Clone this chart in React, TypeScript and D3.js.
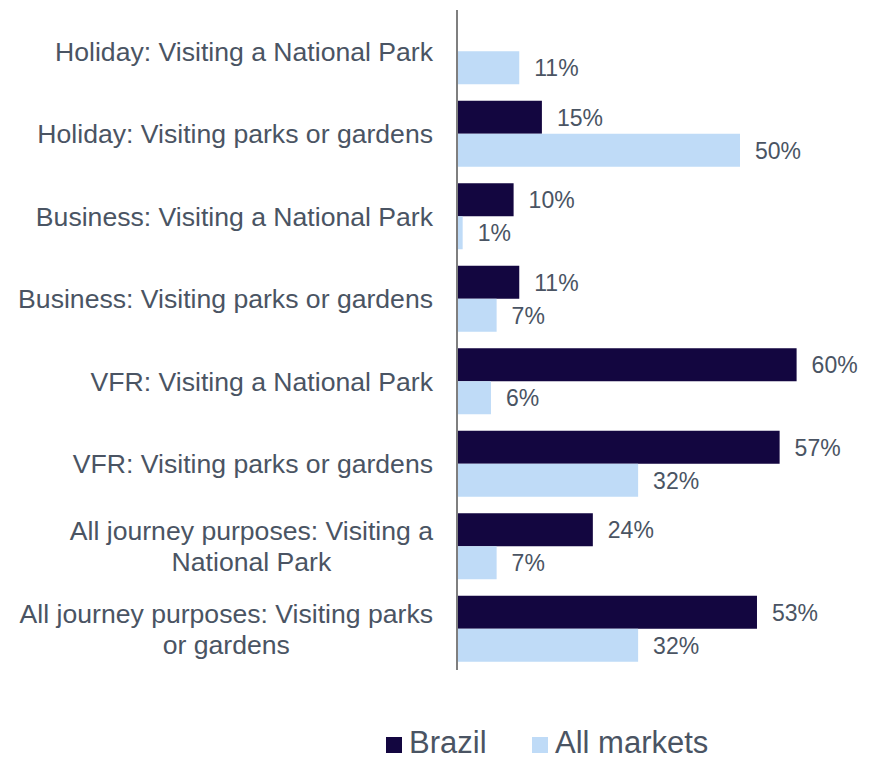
import React, { useRef, useEffect } from 'react';
import * as d3 from 'd3';

const categories: string[][] = [
  ['Holiday: Visiting a National Park'],
  ['Holiday: Visiting parks or gardens'],
  ['Business: Visiting a National Park'],
  ['Business: Visiting parks or gardens'],
  ['VFR: Visiting a National Park'],
  ['VFR: Visiting parks or gardens'],
  ['All journey purposes: Visiting a', 'National Park'],
  ['All journey purposes: Visiting parks', 'or gardens'],
];
const brazil: (number | null)[] = [null, 15, 10, 11, 60, 57, 24, 53];
const allMarkets: number[] = [11, 50, 1, 7, 6, 32, 7, 32];
const seriesNames = ['Brazil', 'All markets'];
const seriesColors = ['#130640', '#BFDBF7'];

const W = 878;
const H = 759;
const textColor = '#4A5463';
const fontFamily = '"Liberation Sans", Arial, sans-serif';

const App: React.FC = () => {
  const ref = useRef<SVGSVGElement>(null);

  useEffect(() => {
    if (!ref.current) return;
    const svg = d3.select(ref.current);
    svg.selectAll('*').remove();

    const left = 457;
    const top = 10;
    const bottom = 670;

    const y = d3.scaleBand<number>()
      .domain(d3.range(categories.length))
      .range([top, bottom])
      .paddingInner(0.2)
      .paddingOuter(0.1);

    const sub = d3.scaleBand<number>()
      .domain([0, 1])
      .range([0, y.bandwidth()]);

    const x = d3.scaleLinear().domain([0, 100]).range([left, left + 566]);

    const rows = categories.map((c, i) => ({ i, vals: [brazil[i], allMarkets[i]] }));

    // bars + value labels
    const g = svg.append('g');
    rows.forEach(r => {
      r.vals.forEach((v, s) => {
        if (v == null) return;
        const yy = (y(r.i) as number) + (sub(s) as number);
        g.append('rect')
          .attr('x', x(0))
          .attr('y', yy)
          .attr('width', x(v) - x(0))
          .attr('height', sub.bandwidth())
          .attr('fill', seriesColors[s]);
        g.append('text')
          .attr('x', x(v) + 15)
          .attr('y', yy + sub.bandwidth() / 2)
          .attr('dy', '0.36em')
          .attr('font-size', 23)
          .attr('font-family', fontFamily)
          .attr('fill', textColor)
          .text(`${v}%`);
      });
    });

    // axis line
    svg.append('line')
      .attr('x1', left).attr('x2', left)
      .attr('y1', top).attr('y2', bottom)
      .attr('stroke', '#7F7F7F')
      .attr('stroke-width', 2);

    // category labels, centered block, right aligned
    const labelRight = 433;
    const lineH = 31;
    categories.forEach((lines, i) => {
      const cy = (y(i) as number) + y.bandwidth() / 2;
      const t = svg.append('text')
        .attr('font-size', 26.6)
        .attr('font-family', fontFamily)
        .attr('fill', textColor)
        .attr('text-anchor', 'middle');
      const spans = lines.map((l, k) =>
        t.append('tspan')
          .attr('y', cy + (k - (lines.length - 1) / 2) * lineH)
          .attr('dy', '0.36em')
          .text(l)
      );
      const maxW = d3.max(spans, sp => (sp.node() as SVGTextContentElement).getComputedTextLength()) || 0;
      spans.forEach(sp => sp.attr('x', labelRight - maxW / 2));
    });

    // legend
    const legend = svg.append('g');
    const items = [
      { x: 386, name: seriesNames[0], color: seriesColors[0] },
      { x: 532, name: seriesNames[1], color: seriesColors[1] },
    ];
    items.forEach(it => {
      legend.append('rect')
        .attr('x', it.x).attr('y', 737)
        .attr('width', 16).attr('height', 16)
        .attr('fill', it.color);
      legend.append('text')
        .attr('x', it.x + 23).attr('y', 753)
        .attr('font-size', 31)
        .attr('font-family', fontFamily)
        .attr('fill', textColor)
        .text(it.name);
    });
  }, []);

  return (
    <svg
      ref={ref}
      width={W}
      height={H}
      style={{ position: 'absolute', left: 0, top: 0, background: '#fff' }}
    />
  );
};

export default App;
